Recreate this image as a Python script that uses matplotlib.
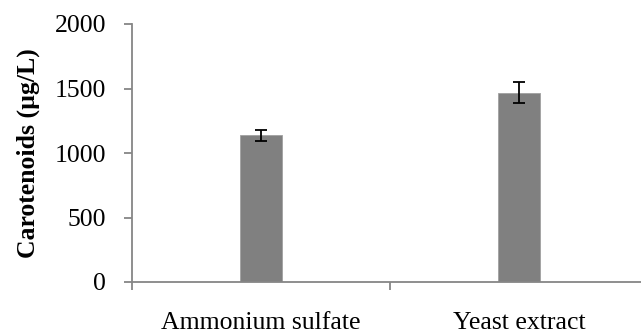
import matplotlib.pyplot as plt
from matplotlib.ticker import FixedLocator

categories = ["Ammonium sulfate", "Yeast extract"]
values = [1137, 1468]
errors = [42, 80]

plt.rcParams["font.family"] = ["Liberation Serif", "DejaVu Serif"]

fig = plt.figure(figsize=(6.41, 3.33), dpi=100)
ax = fig.add_axes([132 / 641, 1 - 282 / 333, 516 / 641, 258 / 333])

x = list(range(len(categories)))
ax.bar(x, values, width=0.166, color="#808080", edgecolor="#a0a0a0", linewidth=0.6, zorder=2)
ax.errorbar(x, values, yerr=errors, fmt="none", ecolor="black", elinewidth=1.3,
            capsize=4.3, capthick=1.3, zorder=3)

ax.set_xlim(-0.5, len(categories) - 0.5)
ax.set_ylim(0, 2000)
ax.set_yticks([0, 500, 1000, 1500, 2000])

# category separators as major ticks, labels on minor ticks
ax.xaxis.set_major_locator(FixedLocator([-0.5, 0.5, 1.5]))
ax.set_xticklabels([])
ax.xaxis.set_minor_locator(FixedLocator(x))
ax.set_xticklabels(categories, minor=True)
ax.tick_params(axis="x", which="major", length=6, width=1.3, color="#868686")
ax.tick_params(axis="x", which="minor", length=0, pad=21.5, labelsize=18.5)
ax.tick_params(axis="y", length=6, width=1.3, color="#868686", pad=12.5, labelsize=18.5)

for s in ["top", "right"]:
    ax.spines[s].set_visible(False)
for s in ["left", "bottom"]:
    ax.spines[s].set_color("#868686")
    ax.spines[s].set_linewidth(1.3)

fig.text(28 / 641, 1 - 153.5 / 333, "Carotenoids (µg/L)", rotation=90, ha="center", va="center",
         fontsize=18.5, fontweight="bold")

fig.savefig("out.png", dpi=100)
